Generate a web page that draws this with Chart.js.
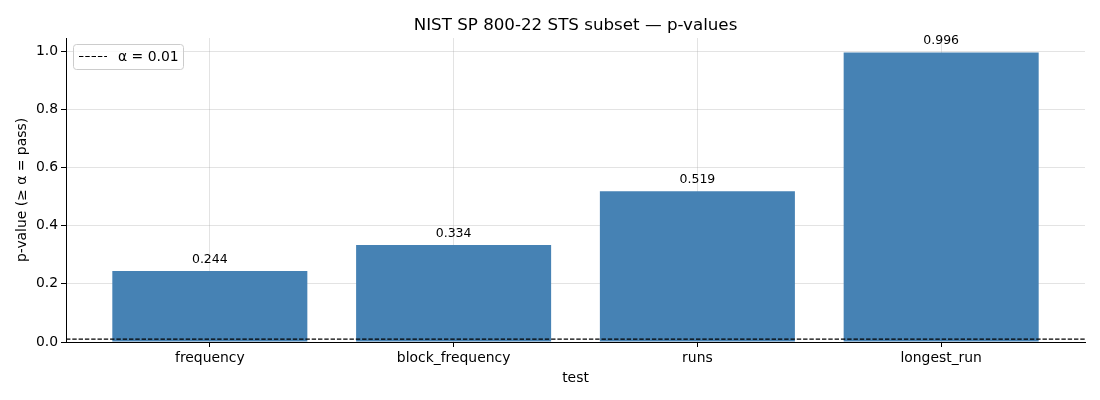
<!DOCTYPE html>
<html>
<head>
<meta charset="utf-8">
<script src="https://cdn.jsdelivr.net/npm/chart.js@4.4.1/dist/chart.umd.min.js"></script>
<style>
  html, body { margin: 0; padding: 0; background: #fff; }
  #wrap { width: 1100px; height: 400px; position: relative; }
</style>
</head>
<body>
<div id="wrap"><canvas id="c" width="1100" height="400"></canvas></div>
<script>
const categories = ["frequency", "block_frequency", "runs", "longest_run"];
const pValues = [0.244, 0.334, 0.519, 0.996];
const alphaLevel = 0.01;
const yTicks = [0.0, 0.2, 0.4, 0.6, 0.8, 1.0];
const titleText = "NIST SP 800-22 STS subset — p-values";
const xTitle = "test";
const yTitle = "p-value (≥ α = pass)";
const legendLabel = "α = 0.01";

const FONT = "'DejaVu Sans', sans-serif";
const xMin = -0.59, xMax = 3.59;

const overlay = {
  id: 'overlay',
  afterDraw(chart) {
    const ctx = chart.ctx;
    const area = chart.chartArea;
    ctx.save();
    // title
    ctx.fillStyle = '#000';
    ctx.font = `16.7px ${FONT}`;
    ctx.textAlign = 'center';
    ctx.textBaseline = 'alphabetic';
    ctx.fillText(titleText, (area.left + area.right) / 2, 30);
    // x title
    ctx.font = `13.9px ${FONT}`;
    ctx.fillText(xTitle, (area.left + area.right) / 2, 382);
    // y title
    ctx.save();
    ctx.translate(26, (area.top + area.bottom) / 2);
    ctx.rotate(-Math.PI / 2);
    ctx.fillText(yTitle, 0, 0);
    ctx.restore();
    // value labels
    ctx.font = `12.5px ${FONT}`;
    const meta = chart.getDatasetMeta(1);
    meta.data.forEach((bar, i) => {
      ctx.fillText(pValues[i].toFixed(3), bar.x, bar.y - 8);
    });
    // legend
    const lx = 73, ly = 44, lw = 110, lh = 25;
    ctx.fillStyle = 'rgba(255,255,255,0.8)';
    ctx.strokeStyle = '#cccccc';
    ctx.lineWidth = 1;
    ctx.beginPath();
    ctx.roundRect(lx + 0.5, ly + 0.5, lw, lh, 3);
    ctx.fill();
    ctx.stroke();
    ctx.strokeStyle = '#000';
    ctx.lineWidth = 1.2;
    ctx.setLineDash([4.4, 1.9]);
    ctx.beginPath();
    ctx.moveTo(79, 56.5);
    ctx.lineTo(107, 56.5);
    ctx.stroke();
    ctx.setLineDash([]);
    ctx.fillStyle = '#000';
    ctx.textAlign = 'left';
    ctx.font = `13.9px ${FONT}`;
    ctx.fillText(legendLabel, 118, 61);
    ctx.restore();
  }
};

new Chart(document.getElementById('c'), {
  type: 'bar',
  data: {
    datasets: [
      {
        type: 'line',
        label: legendLabel,
        data: [{x: xMin, y: alphaLevel}, {x: xMax, y: alphaLevel}],
        borderColor: '#000',
        borderWidth: 1.2,
        borderDash: [4.4, 1.9],
        pointRadius: 0,
        fill: false,
        order: 0
      },
      {
        type: 'bar',
        label: 'p-value',
        data: categories.map((c, i) => ({x: i, y: pValues[i]})),
        backgroundColor: '#4682b4',
        borderWidth: 0,
        barPercentage: 0.8,
        categoryPercentage: 1.0,
        order: 1
      }
    ]
  },
  options: {
    responsive: false,
    animation: false,
    devicePixelRatio: 1,
    layout: { padding: { top: 38, right: 15, left: 0, bottom: 0 } },
    plugins: { legend: { display: false }, tooltip: { enabled: false }, title: { display: false } },
    scales: {
      x: {
        type: 'linear',
        min: xMin, max: xMax,
        offset: false,
        z: 1,
        afterBuildTicks: s => { s.ticks = categories.map((c, i) => ({ value: i })); },
        afterFit: s => { s.height = 58; },
        ticks: {
          callback: v => categories[v] ?? '',
          color: '#000',
          font: { family: FONT, size: 13.9 },
          padding: 3,
          maxRotation: 0,
          autoSkip: false
        },
        grid: { offset: false, color: 'rgba(176,176,176,0.35)', tickColor: '#000', tickLength: 5, lineWidth: 1 },
        border: { display: true, color: '#000', width: 1 }
      },
      y: {
        min: 0, max: 1.0458,
        z: 1,
        afterBuildTicks: s => { s.ticks = yTicks.map(v => ({ value: v })); },
        afterFit: s => { s.width = 66; },
        ticks: {
          callback: v => Number(v).toFixed(1),
          color: '#000',
          font: { family: FONT, size: 13.9 },
          padding: 3
        },
        grid: { color: 'rgba(176,176,176,0.35)', tickColor: '#000', tickLength: 5, lineWidth: 1 },
        border: { display: true, color: '#000', width: 1 }
      }
    }
  },
  plugins: [overlay]
});
</script>
</body>
</html>
